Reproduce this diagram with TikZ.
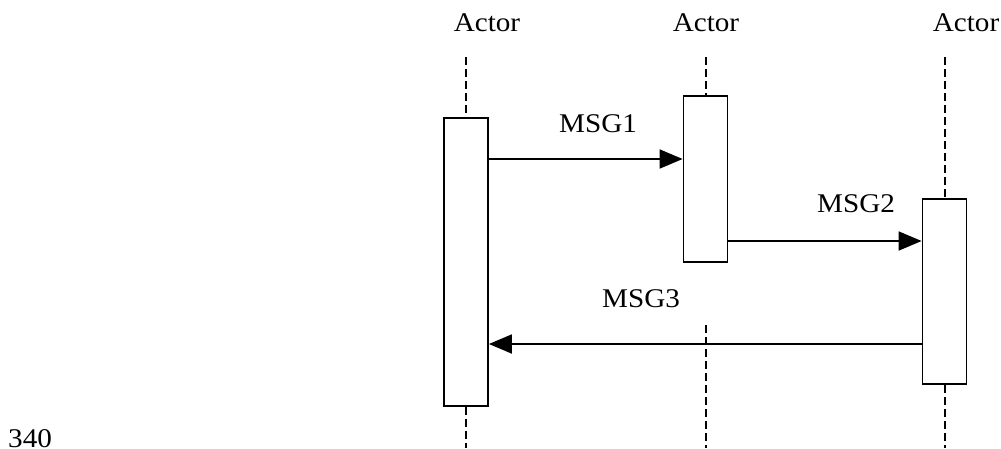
\documentclass[tikz,border=0pt]{standalone}
\usepackage{fontspec}
\setmainfont[FakeStretch=1.08]{Liberation Serif}
\usetikzlibrary{arrows.meta,positioning}
\tikzset{
  actbox/.style={draw, line width=1.8pt, fill=white, minimum width=44pt, inner sep=0pt},
  lifeline/.style={line width=2pt, dash pattern=on 8pt off 4pt},
  msg/.style={line width=1.8pt, -{Triangle[length=23pt,width=19pt]}},
  lbl/.style={anchor=base, inner sep=0pt, font=\fontsize{27}{31}\selectfont},
}
\begin{document}
\begin{tikzpicture}[x=1pt,y=-1pt]
    \useasboundingbox (0,0) rectangle (1001,448);

    % Actors
    \node[lbl] (actA) at (487,31) {Actor};
    \node[lbl] (actB) at (706,31) {Actor};
    \node[lbl] (actC) at (966,31) {Actor};
    \coordinate (top) at (0,57);
    \coordinate (bot) at (0,448);

    % Activation boxes
    \node[actbox, minimum height=288pt] (boxA) at (466,262) {};
    \node[actbox, minimum height=166pt] (boxB) at (705.5,179) {};
    \node[actbox, minimum height=185pt] (boxC) at (944.5,291.5) {};

    % Lifelines
    \draw[lifeline] (boxA.north |- top) -- (boxA.north);
    \draw[lifeline] (boxA.south) -- (boxA.south |- bot);
    \draw[lifeline] (boxB.north |- top) -- (boxB.north);
    \draw[lifeline] (boxB.south |- 0,325) -- (boxB.south |- bot);
    \draw[lifeline] (boxC.north |- top) -- (boxC.north);
    \draw[lifeline] (boxC.south) -- (boxC.south |- bot);

    % Messages
    \coordinate (m1) at (0,159);
    \coordinate (m2) at (0,241);
    \coordinate (m3) at (0,344);
    \draw[msg] (boxA.east |- m1) -- (boxB.west |- m1);
    \draw[msg] (boxB.east |- m2) -- (boxC.west |- m2);
    \draw[msg] (boxC.west |- m3) -- (boxA.east |- m3);
    \node[lbl] (msgA) at (598,132) {MSG1};
    \node[lbl] (msgB) at (856,212) {MSG2};
    \node[lbl] (msgC) at (641,307) {MSG3};

    % Figure number
    \node[lbl, anchor=base west] (fig) at (8,447) {340};
\end{tikzpicture}
\end{document}
